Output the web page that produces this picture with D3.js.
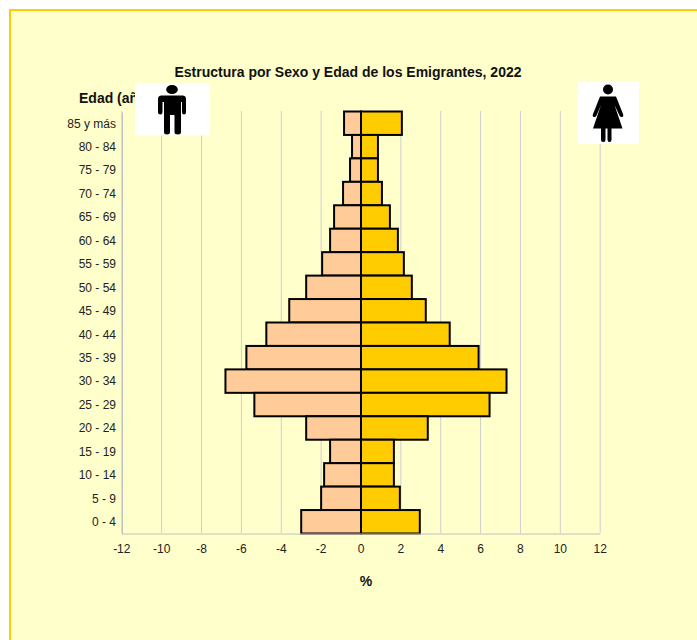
<!DOCTYPE html>
<html><head><meta charset="utf-8">
<script src="https://cdn.jsdelivr.net/npm/d3@7/dist/d3.min.js"></script>
<style>
html,body{margin:0;padding:0;background:#fff}
svg{display:block;font-family:"Liberation Sans",Arial,sans-serif}
</style></head><body>
<svg id="c" width="697" height="640"></svg>
<script>
const ages = ["85 y más","80 - 84","75 - 79","70 - 74","65 - 69","60 - 64","55 - 59","50 - 54","45 - 49","40 - 44","35 - 39","30 - 34","25 - 29","20 - 24","15 - 19","10 - 14","5 - 9","0 - 4"];
const men = [-0.85,-0.45,-0.55,-0.9,-1.35,-1.55,-1.95,-2.75,-3.6,-4.75,-5.75,-6.8,-5.35,-2.75,-1.55,-1.85,-2.0,-3.0];
const women = [2.05,0.85,0.85,1.05,1.45,1.85,2.15,2.55,3.25,4.45,5.9,7.3,6.45,3.35,1.65,1.65,1.95,2.95];
const xTicks = [-12,-10,-8,-6,-4,-2,0,2,4,6,8,10,12];

const svg = d3.select("#c");
svg.append("rect").attr("x",10).attr("y",10).attr("width",700).attr("height",640)
  .attr("fill","#ffffcc").attr("stroke","#ffcc00").attr("stroke-width",2);

const x = d3.scaleLinear().domain([-12,12]).range([121.8,600.2]);
const y = d3.scaleBand().domain(ages).range([111.5,533.5]).padding(0);

// gridlines
svg.append("g").selectAll("line").data(xTicks).join("line")
  .attr("x1",d=>x(d)).attr("x2",d=>x(d)).attr("y1",111).attr("y2",533)
  .attr("stroke","#cfcfcf").attr("stroke-width",1);

// bars
const bars = svg.append("g").attr("stroke","#000").attr("stroke-width",2);
bars.selectAll(".m").data(ages).join("rect").attr("class","m")
  .attr("x",(d,i)=>x(men[i])).attr("width",(d,i)=>x(0)-x(men[i]))
  .attr("y",d=>y(d)).attr("height",y.bandwidth()).attr("fill","#ffcc99");
bars.selectAll(".f").data(ages).join("rect").attr("class","f")
  .attr("x",x(0)).attr("width",(d,i)=>x(women[i])-x(0))
  .attr("y",d=>y(d)).attr("height",y.bandwidth()).attr("fill","#ffcc00");

// axes
const xAxis = svg.append("g").attr("transform","translate(-0.5,533.5)")
  .call(d3.axisBottom(x).tickValues(xTicks).tickSize(0).tickPadding(11).tickFormat(d3.format("d")));
xAxis.select(".domain").attr("stroke","#c0c0c0");
xAxis.selectAll("text").attr("font-size",12).attr("font-family","Liberation Sans").attr("fill","#222")
  .text(d=>String(d));

const yAxis = svg.append("g").attr("transform","translate(122,0.5)")
  .call(d3.axisLeft(y).tickSize(0).tickPadding(6));
yAxis.select(".domain").attr("stroke","#c0c0c0");
yAxis.selectAll("text").attr("font-size",12).attr("font-family","Liberation Sans").attr("fill","#222");

// texts
svg.append("text").attr("x",348).attr("y",77).attr("text-anchor","middle")
  .attr("font-size",14).attr("font-weight","bold").attr("fill","#111")
  .text("Estructura por Sexo y Edad de los Emigrantes, 2022");
svg.append("text").attr("x",79).attr("y",103).attr("font-size",14).attr("font-weight","bold").attr("fill","#111")
  .text("Edad (años)");
svg.append("text").attr("x",366).attr("y",586).attr("text-anchor","middle")
  .attr("font-size",14).attr("font-weight","bold").attr("fill","#111").text("%");

// man icon
const mi = svg.append("g");
mi.append("rect").attr("x",135).attr("y",83).attr("width",75).attr("height",52.5).attr("fill","#fff");
mi.append("ellipse").attr("cx",172).attr("cy",89.5).attr("rx",5.8).attr("ry",4.5).attr("fill","#000");
mi.append("path").attr("fill","#000")
  .attr("d","M161.5,95.5 H182.5 Q186,95.5 186,99 V112 Q186,114.5 184,114.5 Q182,114.5 182,112 V102 H181 V132 Q181,134.5 178,134.5 Q174.5,134.5 174.5,132 V115 H170 V132 Q170,134.5 167,134.5 Q164,134.5 164,132 V102 H162.5 V112 Q162.5,114.5 160.5,114.5 Q158,114.5 158,112 V99 Q158,95.5 161.5,95.5 Z");

// woman icon
const wi = svg.append("g");
wi.append("rect").attr("x",578).attr("y",82).attr("width",61).attr("height",62).attr("fill","#fff");
wi.append("circle").attr("cx",608).attr("cy",89.5).attr("r",5).attr("fill","#000");
wi.append("path").attr("fill","#000")
  .attr("d","M600,96.5 H616 L623,114 Q624,116.5 622,117 Q620.5,117.5 619.5,115.5 L614.5,105 L622.5,128.5 H611.5 V139.5 Q611.5,142 609.5,142 Q607.5,142 607.5,139.5 V128.5 H605.5 V139.5 Q605.5,142 603.5,142 Q601,142 601,139.5 V128.5 H593 L601,105 L596.5,115.5 Q595.5,117.5 594,117 Q592,116.5 593,114 Z");
</script>
</body></html>
